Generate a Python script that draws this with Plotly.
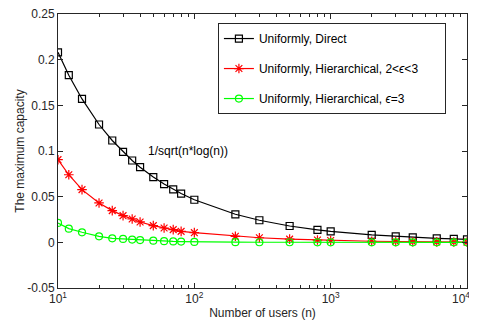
import plotly.graph_objects as go

n_users = [10, 12, 15, 20, 25, 30, 35, 40, 50, 60, 70, 80, 100, 200, 300, 500,
           800, 1000, 2000, 3000, 4000, 6000, 8000, 10000]
direct = [0.208, 0.183, 0.157, 0.129, 0.1115, 0.099, 0.0896, 0.0823, 0.0715, 0.0638,
          0.058, 0.0534, 0.0466, 0.0307, 0.0242, 0.0179, 0.0137, 0.012, 0.0081, 0.0065,
          0.0055, 0.0044, 0.0037, 0.0033]
hier_2_3 = [0.0905, 0.074, 0.0577, 0.0431, 0.0347, 0.0292, 0.0256, 0.0223, 0.0183, 0.0157,
            0.0139, 0.012, 0.0106, 0.0066, 0.005, 0.0035, 0.0025, 0.002, 0.0012, 0.0009,
            0.0007, 0.0005, 0.0004, 0.0003]
hier_3 = [0.0212, 0.015, 0.011, 0.0066, 0.0044, 0.0037, 0.003, 0.0025, 0.0018, 0.0013,
          0.001, 0.0008, 0.0005, 0.0002, 0.0001, 0.0001, 0.0, 0.0, 0.0, 0.0,
          0.0, 0.0, 0.0, 0.0]

names = ["Uniformly, Direct",
         "Uniformly, Hierarchical, 2<<i>ϵ</i><3\u2002\u2002\u2800",
         "Uniformly, Hierarchical, <i>ϵ</i>=3"]
x_tickvals = [10, 100, 1000, 10000]
x_ticktext = ["10<sup>1</sup>", "10<sup>2</sup>", "10<sup>3</sup>", "10<sup>4</sup>\u2003"]
y_tickvals = [-0.05, 0, 0.05, 0.1, 0.15, 0.2, 0.25]
y_ticktext = ["-0.05", "0", "0.05", "0.1", "0.15", "0.2", "0.25"]
minor_vals = [m * d for d in (10, 100, 1000) for m in range(2, 10)]

fig = go.Figure()
specs = [
    (direct, "#000000", "square-open", 7),
    (hier_2_3, "#FF0000", "asterisk-open", 8),
    (hier_3, "#00FF00", "circle-open", 7),
]
for i, (vals, col, sym, sz) in enumerate(specs):
    fig.add_trace(go.Scatter(
        x=n_users, y=vals, mode="lines+markers", name=names[i],
        legendgroup=f"g{i}",
        line=dict(color=col, width=1.2),
        marker=dict(symbol=sym, size=sz, color=col, line=dict(color=col, width=1.2)),
    ))

fig.add_annotation(x=1.645, y=0.1, xref="x", yref="y", text="1/sqrt(n*log(n))",
                   showarrow=False, xanchor="left", yanchor="middle",
                   font=dict(size=12, color="#000000"))

axcol = "#262626"
fig.update_layout(
    width=469, height=312,
    margin=dict(l=50, r=10, t=6, b=32, autoexpand=False),
    paper_bgcolor="white", plot_bgcolor="white",
    font=dict(family="Liberation Sans, Arial, sans-serif", size=12, color=axcol),
    showlegend=True,
    legend=dict(x=0.391, y=0.967, xanchor="left", yanchor="top",
                bgcolor="white", bordercolor=axcol, borderwidth=1,
                font=dict(size=12, color="#000000"),
                tracegroupgap=11, traceorder="grouped"),
    xaxis=dict(type="log", range=[1, 4], tickvals=x_tickvals, ticktext=x_ticktext,
               ticks="inside", ticklen=5, tickcolor=axcol, showline=True,
               linecolor=axcol, linewidth=1, mirror="ticks", showgrid=False,
               zeroline=False, automargin=False, ticklabeloverflow="allow",
               minor=dict(tickvals=minor_vals, ticks="inside", ticklen=3,
                          tickcolor=axcol, showgrid=False),
               title=dict(text="Number of users (n)", standoff=6,
                          font=dict(size=12))),
    yaxis=dict(range=[-0.05, 0.25], tickvals=y_tickvals, ticktext=y_ticktext,
               ticks="inside", ticklen=5, tickcolor=axcol, showline=True,
               linecolor=axcol, linewidth=1, mirror="ticks", showgrid=False,
               zeroline=False, automargin=False, ticklabeloverflow="allow",
               title=dict(text="The maximum capacity", standoff=0,
                          font=dict(size=12))),
)

fig.write_html("out.html")
